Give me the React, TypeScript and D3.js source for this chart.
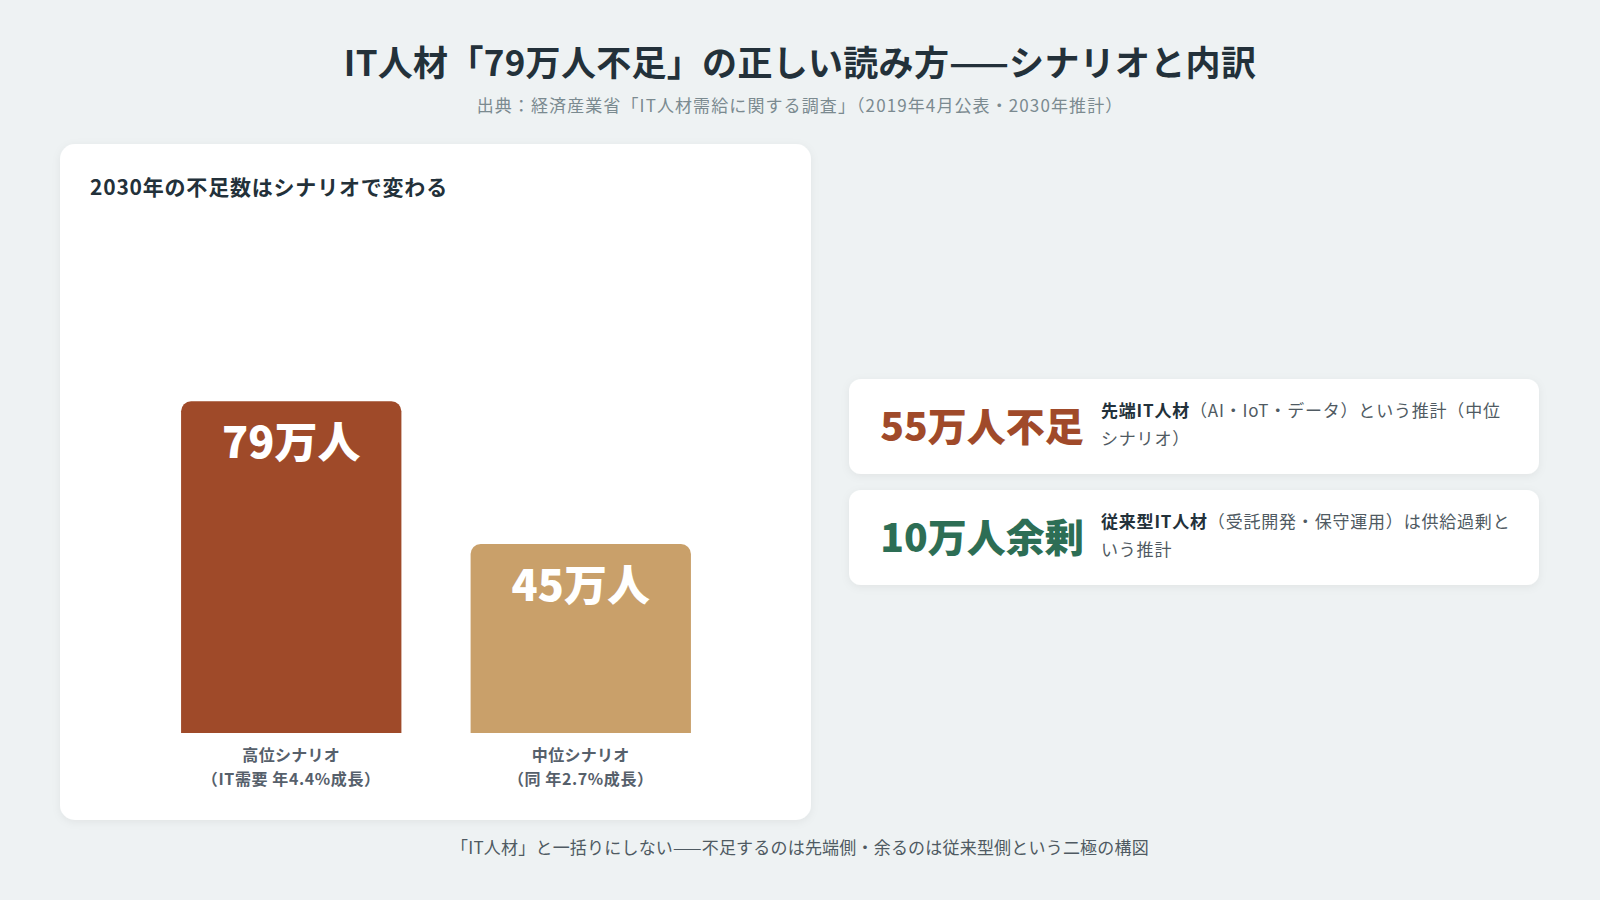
import React from "react";
import * as d3 from "d3";

// ---- Data ----
const titleText = "IT人材「79万人不足」の正しい読み方——シナリオと内訳";
const subtitleText = "出典：経済産業省「IT人材需給に関する調査」（2019年4月公表・2030年推計）";
const chartTitle = "2030年の不足数はシナリオで変わる";
const footerText = "「IT人材」と一括りにしない——不足するのは先端側・余るのは従来型側という二極の構図";

const scenarios = ["高位シナリオ", "中位シナリオ"];
const scenarioNotes = ["（IT需要 年4.4%成長）", "（同 年2.7%成長）"];
const shortage = [79, 45];
const barColors = ["#9f4a29", "#c9a06a"];

const breakdownValues = [55, 10];
const breakdownKinds = ["不足", "余剰"];
const breakdownColors = ["#a04a2a", "#2d6e55"];
const breakdownHeads = ["先端IT人材", "従来型IT人材"];
const breakdownLine1 = ["（AI・IoT・データ）という推計（中位", "（受託開発・保守運用）は供給過剰と"];
const breakdownLine2 = ["シナリオ）", "いう推計"];

const FONT = "'Noto Sans CJK JP', 'Noto Sans', sans-serif";

function topRoundedRect(x: number, y: number, w: number, h: number, r: number) {
  const p = d3.path();
  const rr = Math.min(r, h, w / 2);
  p.moveTo(x, y + h);
  p.lineTo(x, y + rr);
  p.arcTo(x, y, x + rr, y, rr);
  p.lineTo(x + w - rr, y);
  p.arcTo(x + w, y, x + w, y + rr, rr);
  p.lineTo(x + w, y + h);
  p.closePath();
  return p.toString();
}

export default function App() {
  const W = 1600;
  const H = 900;

  const x = d3.scaleBand<string>().domain(scenarios).range([100, 772]).paddingInner(0.239).paddingOuter(0.28);
  const y = d3.scaleLinear().domain([0, 100]).range([733, 313]);

  return (
    <div style={{ position: "fixed", left: 0, top: 0, width: W, height: H }}>
      <svg width={W} height={H} style={{ display: "block", fontFamily: FONT }}>
        <defs>
          <filter id="shadow" x="-10%" y="-10%" width="120%" height="120%">
            <feDropShadow dx="0" dy="2" stdDeviation="4" floodColor="#000" floodOpacity="0.06" />
          </filter>
        </defs>
        <rect x={0} y={0} width={W} height={H} fill="#eef2f3" />

        <text x={W / 2} y={76} textAnchor="middle" fontSize={35} fontWeight={700} fill="#23313a" letterSpacing={0.3}>
          {titleText}
        </text>
        <text x={W / 2} y={112} textAnchor="middle" fontSize={17} fill="#7b8a90" letterSpacing={1.1}>
          {subtitleText}
        </text>

        {/* Left card */}
        <rect x={60} y={144} width={751} height={676} rx={15} fill="#fff" filter="url(#shadow)" />
        <text x={90} y={195} fontSize={21} fontWeight={700} fill="#23313a" letterSpacing={0.8}>
          {chartTitle}
        </text>

        {scenarios.map((s, i) => {
          const bx = x(s)!;
          const bw = x.bandwidth();
          const top = y(shortage[i]);
          const cx = bx + bw / 2;
          return (
            <g key={s}>
              <path d={topRoundedRect(bx, top, bw, y(0) - top, 10)} fill={barColors[i]} />
              <text x={cx} y={top + 57} textAnchor="middle" fontSize={43} fontWeight={900} fill="#fff">
                {`${shortage[i]}万人`}
              </text>
              <text x={cx} y={y(0) + 28} textAnchor="middle" fontSize={16} fontWeight={700} fill="#56606b" letterSpacing={0.3}>
                {s}
              </text>
              <text x={cx} y={y(0) + 52} textAnchor="middle" fontSize={16} fontWeight={700} fill="#56606b" letterSpacing={0.6}>
                {scenarioNotes[i]}
              </text>
            </g>
          );
        })}

        {/* Right cards */}
        {breakdownValues.map((v, i) => {
          const cy = 379 + i * 111;
          return (
            <g key={i}>
              <rect x={849} y={cy} width={690} height={95} rx={12} fill="#fff" filter="url(#shadow)" />
              <text x={982} y={cy + 62} textAnchor="middle" fontSize={39} fontWeight={900} fill={breakdownColors[i]}>
                {`${v}万人${breakdownKinds[i]}`}
              </text>
              <text x={1101} y={cy + 38} fontSize={17} fill="#4f5a62" letterSpacing={0.8}>
                <tspan fontWeight={700} fill="#23313a">{breakdownHeads[i]}</tspan>
                <tspan>{breakdownLine1[i]}</tspan>
              </text>
              <text x={1101} y={cy + 66} fontSize={17} fill="#4f5a62" letterSpacing={0.8}>
                {breakdownLine2[i]}
              </text>
            </g>
          );
        })}

        <text x={W / 2} y={854} textAnchor="middle" fontSize={17} fill="#4f5a62" letterSpacing={0.2}>
          {footerText}
        </text>
      </svg>
    </div>
  );
}
